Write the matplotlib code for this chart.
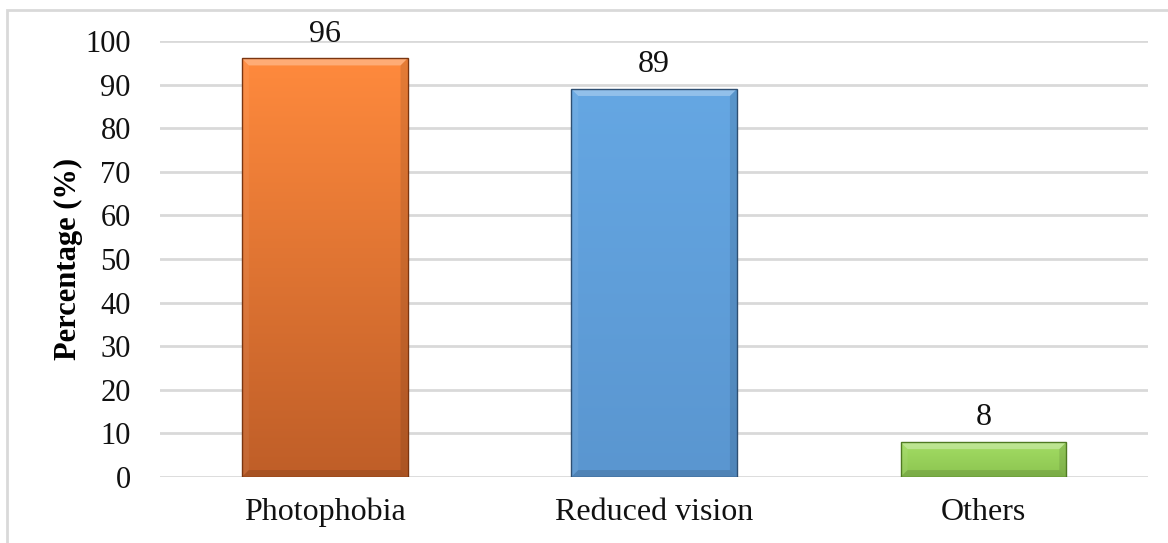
import numpy as np
import matplotlib.pyplot as plt
from matplotlib.patches import Polygon, Rectangle
from matplotlib.colors import LinearSegmentedColormap

plt.rcParams['font.family'] = ['Liberation Serif', 'DejaVu Serif']

categories = ['Photophobia', 'Reduced vision', 'Others']
values = [96, 89, 8]
# top colour, bottom colour for each bar
top_colors = ['#FF8A3D', '#65A7E3', '#A3DD64']
bottom_colors = ['#BF5E28', '#5A96D0', '#8CC450']
edge_colors = ['#7A3510', '#2E4F72', '#4F7A22']

fig = plt.figure(figsize=(11.68, 5.43), dpi=100)
ax = fig.add_axes([0.137, 0.1215, 0.846, 0.803])

x = np.arange(len(categories))
w = 0.503
bars = ax.bar(x, values, width=w, color='none', zorder=3)

ax.set_xlim(-0.5, 2.5)
ax.set_ylim(0, 100)

# pixel -> data scale for the bevel sizes
px_x = 3.0 / 988
px_y = 100.0 / 436
bev = 7

for i, b in enumerate(bars):
    x0 = b.get_x()
    x1 = x0 + b.get_width()
    h = b.get_height()
    cmap = LinearSegmentedColormap.from_list('g', [bottom_colors[i], top_colors[i]])
    grad = np.linspace(0, 1, 256).reshape(-1, 1)
    im = ax.imshow(grad, cmap=cmap, extent=[x0, x1, 0, h], origin='lower',
                   aspect='auto', zorder=3)
    im.set_clip_path(b)
    dx = bev * px_x
    dy = bev * px_y
    # bevel faces
    top = Polygon([[x0, h], [x1, h], [x1 - dx, h - dy], [x0 + dx, h - dy]],
                  closed=True, facecolor='white', alpha=0.30, lw=0, zorder=4)
    bot = Polygon([[x0, 0], [x1, 0], [x1 - dx, dy], [x0 + dx, dy]],
                  closed=True, facecolor='black', alpha=0.12, lw=0, zorder=4)
    rgt = Polygon([[x1, 0], [x1, h], [x1 - dx, h - dy], [x1 - dx, dy]],
                  closed=True, facecolor='black', alpha=0.10, lw=0, zorder=4)
    lft = Polygon([[x0, 0], [x0, h], [x0 + dx, h - dy], [x0 + dx, dy]],
                  closed=True, facecolor='white', alpha=0.06, lw=0, zorder=4)
    for p in (top, bot, rgt, lft):
        ax.add_patch(p)
    ax.add_patch(Rectangle((x0, 0), x1 - x0, h, facecolor='none',
                           edgecolor=edge_colors[i], lw=1.0, zorder=5))
    ax.annotate(str(values[i]), (x[i], h), xytext=(0, 7),
                textcoords='offset points', ha='center', va='bottom',
                fontsize=23, color='#111111', annotation_clip=False)

ax.set_yticks(np.arange(0, 101, 10))
ax.set_xticks(x)
ax.set_xticklabels(categories)
ax.yaxis.grid(True, color='#D9D9D9', lw=2, zorder=0)
ax.set_axisbelow(True)
for s in ax.spines.values():
    s.set_visible(False)
ax.tick_params(axis='both', length=0, colors='#111111')
ax.tick_params(axis='y', pad=21, labelsize=22)
ax.tick_params(axis='x', pad=15, labelsize=23)
ax.set_ylabel('Percentage (%)', fontsize=22, fontweight='bold', labelpad=2)

# outer chart frame
fig.patches.append(Rectangle((7 / 1168, -0.1), 1.2, 1 - 10 / 543 + 0.1,
                             transform=fig.transFigure, facecolor='none',
                             edgecolor='#D9D9D9', lw=2))

fig.savefig('out.png', dpi=100)
